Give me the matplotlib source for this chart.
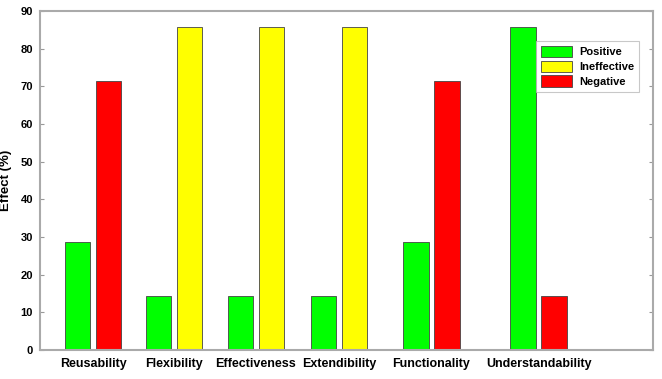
import matplotlib
matplotlib.use('Agg')
import matplotlib.pyplot as plt
import numpy as np

plt.rcParams['font.family'] = ['Liberation Sans', 'DejaVu Sans']
plt.rcParams['font.weight'] = 'bold'

categories = ['Reusability', 'Flexibility', 'Effectiveness', 'Extendibility',
              'Functionality', 'Understandability']
positive = [28.57, 14.29, 14.29, 14.29, 28.57, 85.71]
ineffective = [0, 85.71, 85.71, 85.71, 0, 0]
negative = [71.43, 0, 0, 0, 71.43, 14.29]
group_x = [0.65, 1.64, 2.64, 3.66, 4.79, 6.10]

width = 0.31
off = 0.19
edge = '#444444'

fig = plt.figure(figsize=(6.62, 3.79), dpi=100)
ax = fig.add_axes([0.0604, 0.0765, 0.926, 0.8945])

x = np.array(group_x)
pos = np.array(positive)
ine = np.array(ineffective)
neg = np.array(negative)

ax.bar(x - off, pos, width, color='#00ff00', edgecolor=edge, linewidth=0.6, label='Positive')
m = ine > 0
ax.bar(x[m] + off, ine[m], width, color='#ffff00', edgecolor=edge, linewidth=0.6, label='Ineffective')
m = neg > 0
ax.bar(x[m] + off, neg[m], width, color='#ff0000', edgecolor=edge, linewidth=0.6, label='Negative')

ax.set_xlim(0, 7.5)
ax.set_ylim(0, 90)
ax.set_yticks(np.arange(0, 91, 10))
ax.set_xticks(x)
ax.set_xticklabels(categories, fontsize=9, fontweight='bold')
ax.tick_params(axis='x', length=0, pad=6)
ax.tick_params(axis='y', direction='in', length=3, labelsize=8, color='#999999',
               right=True, pad=5)
ax.set_ylabel('Effect (%)', fontsize=9.5, fontweight='bold', labelpad=6)

for s in ax.spines.values():
    s.set_color('#aaaaaa')
    s.set_linewidth(1.5)

leg = ax.legend(loc='upper right', bbox_to_anchor=(0.977, 0.912), fontsize=8,
                frameon=True, fancybox=False, edgecolor='#bbbbbb',
                handlelength=2.8, handleheight=1.2, borderpad=0.45,
                labelspacing=0.3, handletextpad=0.6, borderaxespad=0)
leg.get_frame().set_linewidth(0.8)
for t in leg.get_texts():
    t.set_fontweight('bold')

fig.savefig('out.png', dpi=100)
